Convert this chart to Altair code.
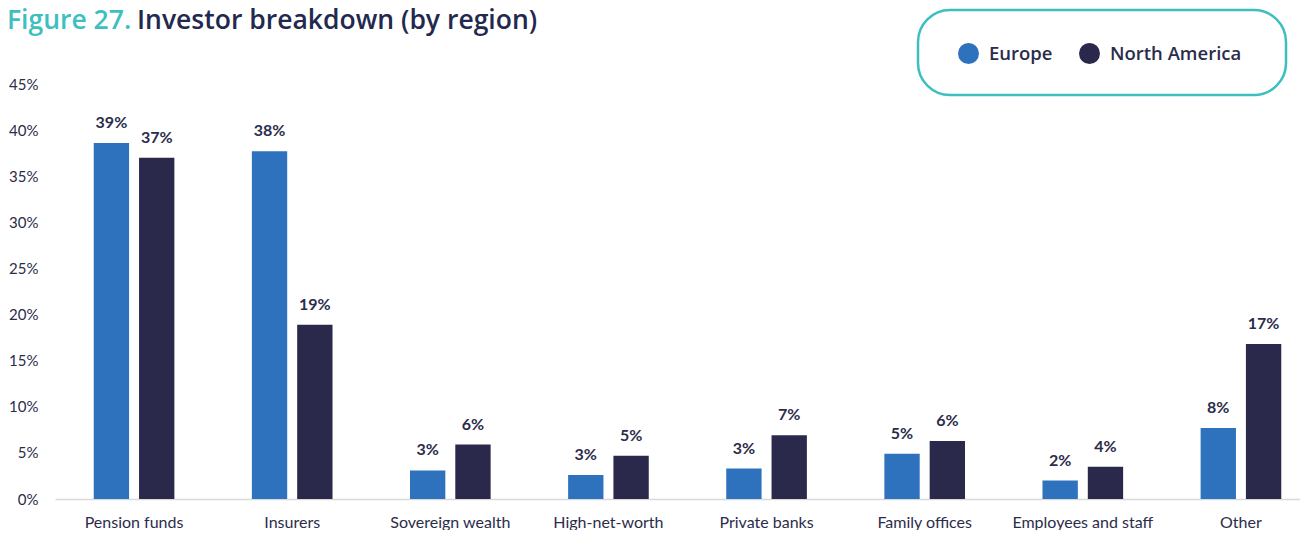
import altair as alt
import pandas as pd

categories = ["Pension funds", "Insurers", "Sovereign wealth funds", "High-net-worth individuals",
              "Private banks", "Family offices", "Employees and staff", "Other"]
europe = [38.6, 37.7, 3.1, 2.6, 3.3, 4.9, 2.0, 7.7]
north_america = [37.0, 18.9, 5.9, 4.7, 6.9, 6.3, 3.5, 16.8]
europe_labels = ["39%", "38%", "3%", "3%", "3%", "5%", "2%", "8%"]
na_labels = ["37%", "19%", "6%", "5%", "7%", "6%", "4%", "17%"]
regions = ["Europe", "North America"]
colors = ["#2E72BE", "#2A294B"]
y_ticks = [0, 5, 10, 15, 20, 25, 30, 35, 40, 45]

rows = []
for i, c in enumerate(categories):
    rows.append({"cat": c, "region": "Europe", "value": europe[i], "label": europe_labels[i]})
    rows.append({"cat": c, "region": "North America", "value": north_america[i], "label": na_labels[i]})
df = pd.DataFrame(rows)

TEXT = "#2B2C4B"
label_expr = ("datum.label == 'Sovereign wealth funds' ? ['Sovereign wealth', 'funds'] : "
              "datum.label == 'High-net-worth individuals' ? ['High-net-worth', 'individuals'] : datum.label")

x = alt.X("cat:N", sort=categories, title=None,
          scale=alt.Scale(paddingInner=0.49, paddingOuter=0.245, range=[0, 1265]),
          axis=alt.Axis(labelAngle=0, labelFont="Lato", labelFontSize=16, labelColor=TEXT,
                        labelPadding=15, labelLineHeight=20, ticks=False,
                        domainColor="#D9D9D9", domainWidth=1.5, labelExpr=label_expr,
                        labelLimit=300))
xoff = alt.XOffset("region:N", sort=regions, scale=alt.Scale(paddingInner=0.22))
y = alt.Y("value:Q", title=None,
          scale=alt.Scale(domain=[0, 45], nice=False),
          axis=alt.Axis(values=y_ticks, labelExpr="datum.value + '%'", domain=False, ticks=False,
                        grid=False, labelFont="Lato", labelFontSize=15, labelColor=TEXT,
                        labelPadding=17))

base = alt.Chart(df)
bars = base.mark_bar().encode(
    x=x, xOffset=xoff, y=y,
    color=alt.Color("region:N", sort=regions,
                    scale=alt.Scale(domain=regions, range=colors),
                    legend=alt.Legend(title=None, orient="none", legendX=903, legendY=-41,
                                      direction="horizontal", symbolType="circle", symbolSize=441,
                                      symbolStrokeWidth=0, labelFont="Open Sans", labelFontSize=18.5,
                                      labelFontWeight=600, labelColor=TEXT, labelOffset=10,
                                      columnPadding=26, padding=0)),
)
texts = base.mark_text(baseline="alphabetic", dy=-15, font="Lato", fontSize=16,
                       fontWeight="bold", color=TEXT).encode(
    x=x, xOffset=xoff, y=y, text="label:N")

one = pd.DataFrame({"a": [0]})
box = alt.Chart(one).mark_rect(fill="white", fillOpacity=0, stroke="#3DBFC1", strokeWidth=2.5,
                               cornerRadius=32).encode(
    x=alt.value(863), x2=alt.value(1231), y=alt.value(-74), y2=alt.value(11))
t1 = alt.Chart(one).mark_text(text="Figure 27.", align="left", baseline="alphabetic",
                              font="Open Sans", fontSize=26.5, fontWeight=600, color="#3DBFC1").encode(
    x=alt.value(-48), y=alt.value(-55))
t2 = alt.Chart(one).mark_text(text="Investor breakdown (by region)", align="left", baseline="alphabetic",
                              font="Open Sans", fontSize=26.5, fontWeight=600, color="#23294E").encode(
    x=alt.value(82), y=alt.value(-55))

chart = alt.layer(box, bars, texts, t1, t2).properties(
    width=1245, height=415, background="white",
    autosize=alt.AutoSizeParams(type="none"),
    padding={"left": 47, "top": 76, "right": 0, "bottom": 31},
).configure_view(stroke=None)

chart.save("out.html", embed_options={"renderer": "svg", "actions": False})
